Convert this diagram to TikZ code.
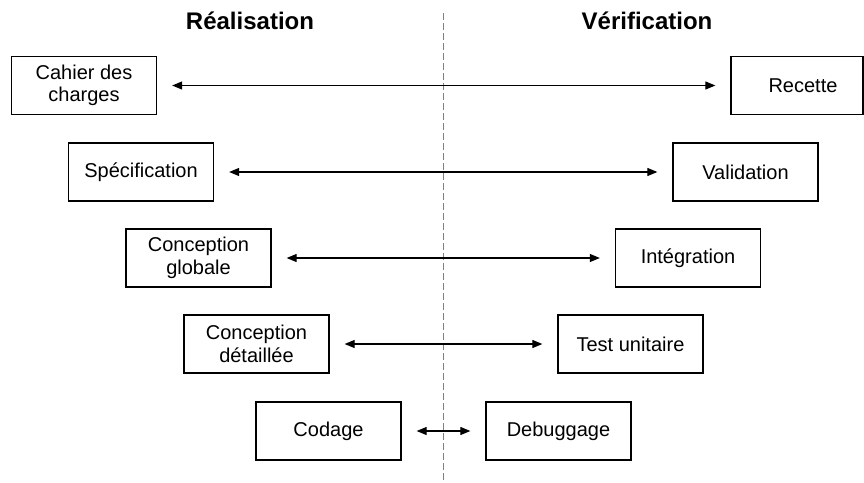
\documentclass[tikz,border=0pt]{standalone}
\usepackage{fontspec}
\setmainfont{Liberation Sans}
\usetikzlibrary{arrows.meta}
\begin{document}
\begin{tikzpicture}[x=1pt,y=-1pt,
  stagebox/.style={draw=black, line width=1.3pt, minimum width=145pt, minimum height=58pt,
    inner sep=0pt, align=center, font=\fontsize{20}{22.5}\selectfont},
  title/.style={font=\fontsize{24}{28}\selectfont\bfseries},
  biarrow/.style={line width=1.1pt, {Triangle[length=10pt,width=8pt]}-{Triangle[length=10pt,width=8pt]}},
  divider/.style={draw=black!50, line width=1pt, dash pattern=on 7pt off 3pt}]
\useasboundingbox (0,0) rectangle (864,482);

\node[title] (treal) at (250,21) {Réalisation};
\node[title] (tverif) at (647,21) {Vérification};

\coordinate (dtop) at (443,13);
\coordinate (dbot) at (443,482);
\draw[divider] (dtop) -- (dbot);

\node[stagebox] (cahier) at (84,85.5) {Cahier des\\charges};
\node[stagebox, minimum width=132pt] (recette) at (797,85.5) {\hspace*{12pt}Recette};
\node[stagebox] (spec) at (141,172) {Spécification};
\node[stagebox] (valid) at (745.5,172) {Validation};
\node[stagebox] (cglob) at (198.5,258) {Conception\\globale};
\node[stagebox] (integ) at (688,258) {Intégration};
\node[stagebox] (cdet) at (256.5,344) {Conception\\détaillée};
\node[stagebox] (tunit) at (630.5,344) {Test unitaire};
\node[stagebox] (codage) at (328.5,431) {Codage};
\node[stagebox] (debug) at (558.5,431) {Debuggage};

\draw[biarrow] ([xshift=15pt]cahier.east) -- ([xshift=-15pt]recette.west);
\draw[biarrow] ([xshift=15pt]spec.east) -- ([xshift=-15pt]valid.west);
\draw[biarrow] ([xshift=15pt]cglob.east) -- ([xshift=-15pt]integ.west);
\draw[biarrow] ([xshift=15pt]cdet.east) -- ([xshift=-15pt]tunit.west);
\draw[biarrow] ([xshift=15pt]codage.east) -- ([xshift=-15pt]debug.west);
\end{tikzpicture}
\end{document}
